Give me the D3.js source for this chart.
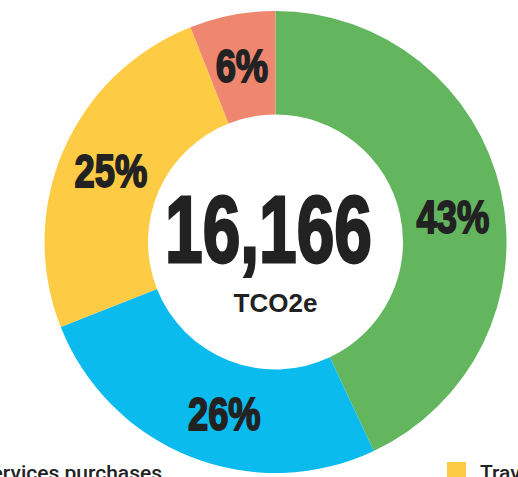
<!DOCTYPE html>
<html>
<head>
<meta charset="utf-8">
<script src="https://cdn.jsdelivr.net/npm/d3@7"></script>
<style>
  body { margin: 0; background: #fff; }
  svg { display: block; }
</style>
</head>
<body>
<svg id="chart"></svg>
<script>
// emissions split, share of total (%)
const categories = ["Services purchases", "Energy", "Travel", "Waste"];
const shares = [43, 26, 25, 6];
const colors = ["#63b55e", "#0bbbed", "#fecb45", "#ef8670"];
const totalLabel = "16,166";
const unitLabel = "TCO2e";
const legendItems = ["Services purchases", "Travel"];
const legendColors = ["#63b55e", "#fecb45"];

const width = 518, height = 477;
const cx = 275.5, cy = 242;
const outerR = 231, innerR = 127.5;

const svg = d3.select("#chart")
    .attr("width", width)
    .attr("height", height);

const data = categories.map((c, i) => ({ name: c, value: shares[i], color: colors[i] }));

const pie = d3.pie()
    .value(d => d.value)
    .sort(null);

const arc = d3.arc()
    .innerRadius(innerR)
    .outerRadius(outerR);

const chart = svg.append("g")
    .attr("transform", `translate(${cx},${cy})`);

const arcs = pie(data);

chart.selectAll("path")
    .data(arcs)
    .join("path")
    .attr("d", arc)
    .attr("fill", d => d.data.color);

// condensed heavy look: squeeze a bold face
function squeeze(sel, factor) {
    sel.each(function() {
        const w = this.getComputedTextLength();
        d3.select(this)
            .attr("textLength", w * factor)
            .attr("lengthAdjust", "spacingAndGlyphs");
    });
}

const labelFont = "'Liberation Sans', Arial, sans-serif";

// labels sit near the middle of the ring, a few nudged along it (degrees)
const nudge = [4.3, -5, 0, 0];
const labelR = (outerR + innerR) / 2;
function labelPos(d, i) {
    const a = (d.startAngle + d.endAngle) / 2 + nudge[i] * Math.PI / 180;
    return [labelR * Math.sin(a), -labelR * Math.cos(a)];
}

chart.selectAll("text.pct")
    .data(arcs)
    .join("text")
    .attr("class", "pct")
    .attr("x", (d, i) => labelPos(d, i)[0])
    .attr("y", (d, i) => labelPos(d, i)[1])
    .attr("dy", "0.358em")
    .attr("text-anchor", "middle")
    .attr("font-family", labelFont)
    .attr("font-weight", "bold")
    .attr("font-size", 46)
    .attr("fill", "#222")
    .attr("stroke", "#222")
    .attr("stroke-width", 1.8)
    .text(d => d.data.value + "%")
    .call(squeeze, 0.79);

chart.append("text")
    .attr("x", -7)
    .attr("y", 20)
    .attr("text-anchor", "middle")
    .attr("font-family", labelFont)
    .attr("font-weight", "bold")
    .attr("font-size", 94)
    .attr("fill", "#222")
    .attr("stroke", "#222")
    .attr("stroke-width", 2.8)
    .text(totalLabel)
    .call(squeeze, 0.72);

chart.append("text")
    .attr("x", 0)
    .attr("y", 70)
    .attr("text-anchor", "middle")
    .attr("font-family", labelFont)
    .attr("font-weight", "bold")
    .attr("font-size", 26)
    .attr("fill", "#222")
    .text(unitLabel);

// legend (partly outside the window)
const legend = svg.append("g");
const items = legend.selectAll("g")
    .data(legendItems)
    .join("g");

items.append("rect")
    .attr("width", 19)
    .attr("height", 19)
    .attr("fill", (d, i) => legendColors[i]);

items.append("text")
    .attr("x", 33)
    .attr("y", 18)
    .attr("font-family", "Roboto, sans-serif")
    .attr("font-weight", 500)
    .attr("font-size", 21)
    .attr("fill", "#222")
    .text(d => d);

items.attr("transform", function(d, i) {
    if (i === 1) return "translate(447,462)";
    const w = d3.select(this).select("text").node().getComputedTextLength();
    return `translate(${162 - 33 - w},462)`;
});
</script>
</body>
</html>
